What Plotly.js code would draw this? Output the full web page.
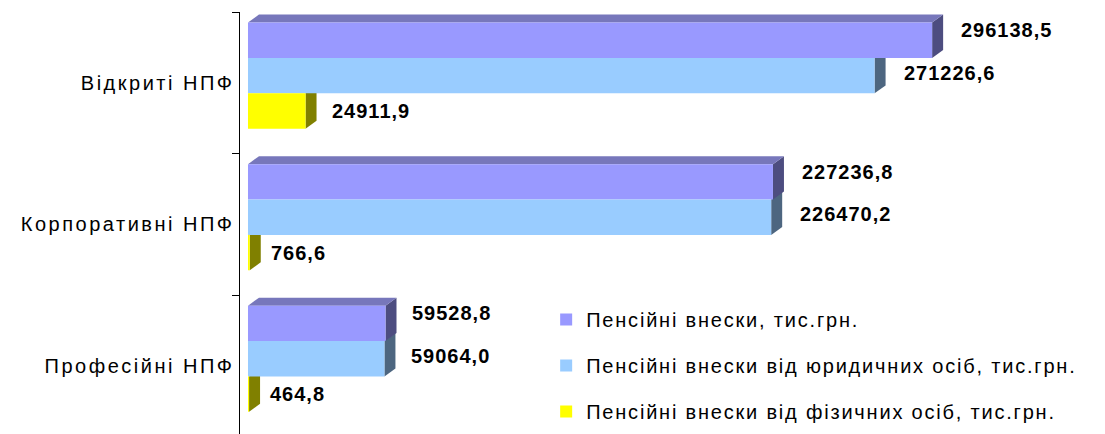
<!DOCTYPE html>
<html>
<head>
<meta charset="utf-8">
<script src="https://cdn.plot.ly/plotly-3.0.1.min.js"></script>
<style>
  html, body { margin: 0; padding: 0; background: #ffffff; }
  #chart { width: 1105px; height: 434px; }
  .ytick text { letter-spacing: 2.5px; }
  .legendtext { letter-spacing: 1.8px; }
  .annotation-text { letter-spacing: 1px; }
</style>
</head>
<body>
<div id="chart"></div>
<script>
// ---- data ----
const categories = ["Відкриті НПФ", "Корпоративні НПФ", "Професійні НПФ"];
const seriesNames = [
  "Пенсійні внески, тис.грн.",
  "Пенсійні внески від юридичних осіб, тис.грн.",
  "Пенсійні внески від фізичних осіб, тис.грн."
];
const totalContrib = [296138.5, 227236.8, 59528.8];
const legalContrib = [271226.6, 226470.2, 59064.0];
const personalContrib = [24911.9, 766.6, 464.8];
const valueLabels = [
  ["296138,5", "227236,8", "59528,8"],
  ["271226,6", "226470,2", "59064,0"],
  ["24911,9", "766,6", "464,8"]
];

// ---- styling ----
const seriesValues = [totalContrib, legalContrib, personalContrib];
const frontColors = ["#9999FF", "#99CCFF", "#FFFF00"];
const sideColors = ["#4D4D80", "#4D6680", "#808000"];
const topColors = ["#7777BB", "#7799CC", "#BBBB00"];
const barWidth = 0.25;
const barOffsets = [-0.425, -0.175, 0.075];
const labelYShift = [10, 3, 0];
const DX = 4760;     // 3-D depth in x units
const DY = 0.0565;   // 3-D depth in category units

const traces = seriesValues.map((vals, s) => ({
  type: "bar",
  orientation: "h",
  name: seriesNames[s],
  legendgroup: "g" + s,
  y: categories,
  x: vals,
  width: barWidth,
  offset: barOffsets[s],
  marker: { color: frontColors[s], line: { width: 0 } },
  hoverinfo: "skip"
}));

const shapes = [];
const annotations = [];
// draw from bottom series to top series so upper ones overlay
for (let s = seriesValues.length - 1; s >= 0; s--) {
  seriesValues[s].forEach((v, i) => {
    const yTop = i + barOffsets[s];
    const yBot = yTop + barWidth;
    // right side face
    shapes.push({
      type: "path", xref: "x", yref: "y", layer: "below",
      path: `M${v},${yTop} L${v + DX},${yTop - DY} L${v + DX},${yBot - DY} L${v},${yBot} Z`,
      fillcolor: sideColors[s], line: { width: 0 }
    });
    if (s === 0) {
      // top face
      shapes.push({
        type: "path", xref: "x", yref: "y", layer: "below",
        path: `M0,${yTop} L${DX},${yTop - DY} L${v + DX},${yTop - DY} L${v},${yTop} Z`,
        fillcolor: topColors[s], line: { width: 0 }
      });
    }
    const txt = valueLabels[s][i];
    annotations.push({
      x: v, y: yTop + barWidth / 2, xref: "x", yref: "y",
      text: txt, showarrow: false,
      xanchor: "left", yanchor: "middle",
      xshift: 4.5 + 2.85 * txt.length,
      yshift: labelYShift[s],
      font: { family: "Liberation Sans, Arial, sans-serif", size: 20, color: "#000000", weight: "bold" }
    });
  });
}

const layout = {
  width: 1105, height: 434,
  margin: { l: 240, r: 5, t: 12, b: 0, pad: 0 },
  paper_bgcolor: "#ffffff", plot_bgcolor: "#ffffff",
  barmode: "overlay",
  showlegend: true,
  legend: {
    x: 0.356, y: 0.3175, xanchor: "left", yanchor: "top",
    traceorder: "grouped", tracegroupgap: 17,
    bgcolor: "rgba(0,0,0,0)", borderwidth: 0,
    font: { family: "Liberation Sans, Arial, sans-serif", size: 20, color: "#000000" }
  },
  xaxis: { visible: false, range: [-3460, 368800], fixedrange: true },
  yaxis: {
    type: "category", categoryorder: "array", categoryarray: categories,
    range: [2.482, -0.5],
    tickson: "boundaries", ticks: "outside", ticklen: 7, tickwidth: 1, tickcolor: "#000000",
    showline: true, linecolor: "#000000", linewidth: 1.5,
    showgrid: false, zeroline: false, fixedrange: true,
    tickfont: { family: "Liberation Sans, Arial, sans-serif", size: 20, color: "#000000" }
  },
  shapes: shapes,
  annotations: annotations,
  hovermode: false
};

Plotly.newPlot("chart", traces, layout, { staticPlot: true, displayModeBar: false });
</script>
</body>
</html>
